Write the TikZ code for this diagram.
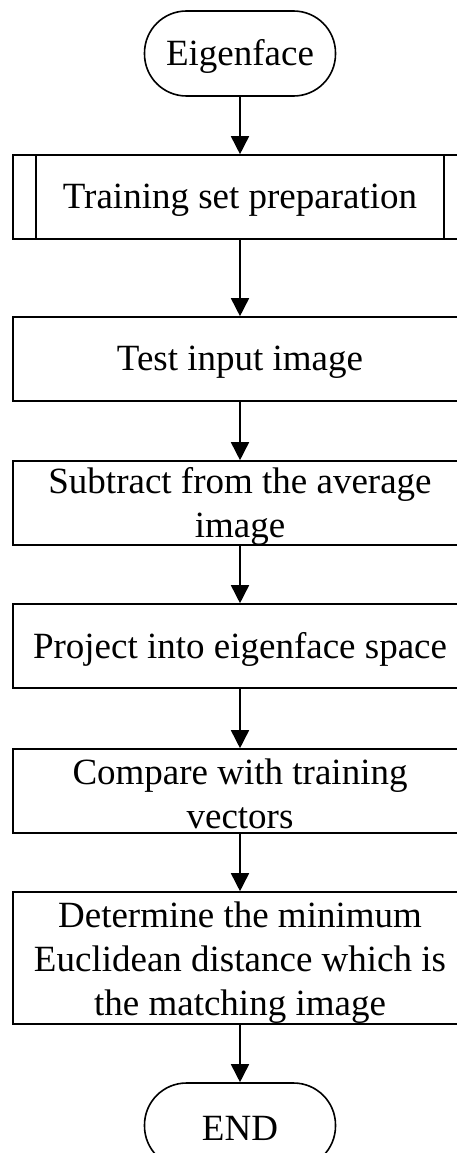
\documentclass[tikz,border=0pt]{standalone}
\usepackage{fontspec}
\setmainfont{Liberation Serif}
\usetikzlibrary{arrows.meta}
\begin{document}
\begin{tikzpicture}[x=1pt,y=-1pt,
  line width=1.6pt,
  terminal/.style={draw, rounded corners=42pt, minimum width=191pt, minimum height=85pt, inner sep=0pt},
  procbox/.style={draw, minimum width=454pt, minimum height=84pt, inner sep=0pt},
  caption/.style={inner sep=0pt, align=center, yshift=-3pt, font=\fontsize{37}{44}\selectfont},
  flow/.style={-{Triangle[length=18pt,width=18pt]}}]
\useasboundingbox (0,0) rectangle (457,1153);
\clip (0,0) rectangle (457,1153);

% shapes of the flow
\node[terminal] (start) at (240,53.5) {};
\node[procbox] (train) at (240,197) {};
\node[procbox] (test) at (240,359) {};
\node[procbox] (sub) at (240,503) {};
\node[procbox] (proj) at (240,646) {};
\node[procbox] (comp) at (240,791) {};
\node[procbox, minimum height=132pt] (det) at (240,958) {};
\node[terminal] (stop) at (240,1125.5) {};

% predefined-process bars
\draw ([xshift=23.7pt]train.north west) -- ([xshift=23.7pt]train.south west);
\draw ([xshift=-23.7pt]train.north east) -- ([xshift=-23.7pt]train.south east);

% labels
\node[caption] (tstart) at (start.center) {Eigenface};
\node[caption] (ttrain) at (train.center) {Training set preparation};
\node[caption] (ttest) at (test.center) {Test input image};
\node[caption] (tsub) at (sub.center) {Subtract from the average\\image};
\node[caption] (tproj) at (proj.center) {Project into eigenface space};
\node[caption] (tcomp) at (comp.center) {Compare with training\\vectors};
\node[caption, yshift=-1.5pt] (tdet) at (det.center) {Determine the minimum\\Euclidean distance which is\\the matching image};
\node[caption] (tstop) at (stop.center) {END};

% connectors
\draw[flow] (start) -- (train);
\draw[flow] (train) -- (test);
\draw[flow] (test) -- (sub);
\draw[flow] (sub) -- (proj);
\draw[flow] (proj) -- (comp);
\draw[flow] (comp) -- (det);
\draw[flow] (det) -- (stop);
\end{tikzpicture}
\end{document}
